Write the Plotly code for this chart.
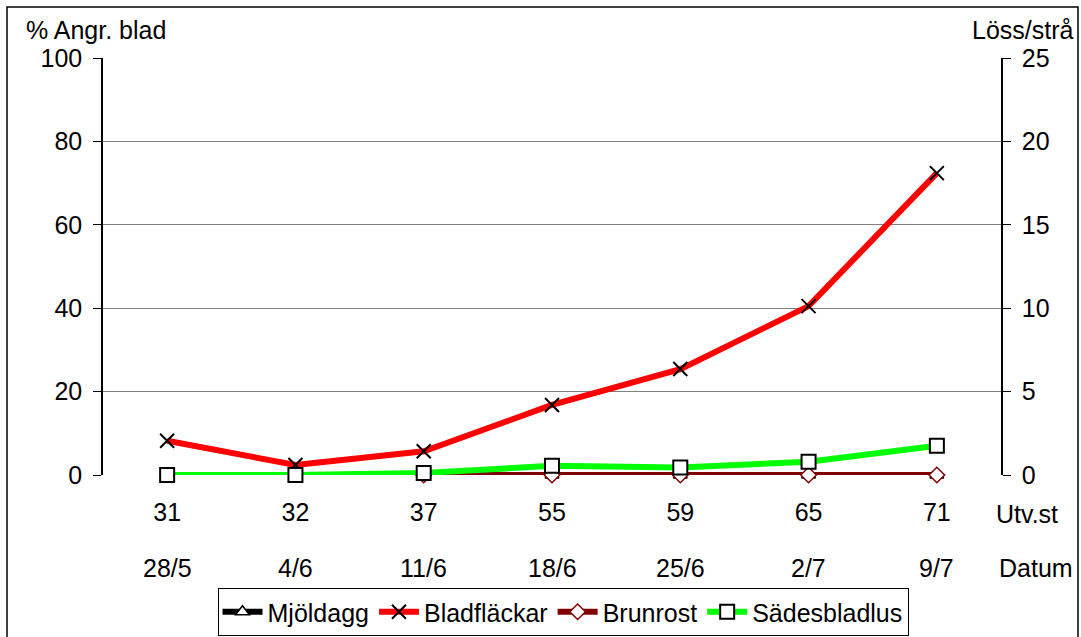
import plotly.graph_objects as go

utv = ["31", "32", "37", "55", "59", "65", "71"]
datum = ["28/5", "4/6", "11/6", "18/6", "25/6", "2/7", "9/7"]

mjoldagg = [None, None, 0, 0, 0, 0, 0]
bladflackar = [8.2, 2.4, 5.7, 16.8, 25.4, 40.5, 72.4]
brunrost = [None, None, 0, 0, 0, 0, 0]
sadesbladlus = [0, 0, 0.12, 0.55, 0.45, 0.8, 1.75]  # Löss/strå (right axis)

left_ticks = [0, 20, 40, 60, 80, 100]
right_ticks = [0, 5, 10, 15, 20, 25]

FONT = "Liberation Sans, Arial, sans-serif"
FS = 25

fig = go.Figure()
fig.add_trace(go.Scatter(
    x=utv, y=mjoldagg, name="Mjöldagg", mode="lines+markers", legendgroup="a",
    line=dict(color="black", width=6),
    marker=dict(symbol="triangle-up", size=12, color="white", line=dict(color="black", width=1.5)),
    cliponaxis=False))
fig.add_trace(go.Scatter(
    x=utv, y=bladflackar, name="Bladfläckar", mode="lines+markers", legendgroup="b",
    line=dict(color="#ff0000", width=6),
    marker=dict(symbol="x-thin", size=14, color="black", line=dict(color="black", width=2)),
    cliponaxis=False))
fig.add_trace(go.Scatter(
    x=utv, y=brunrost, name="Brunrost", mode="lines+markers", legendgroup="c",
    line=dict(color="#800000", width=6),
    marker=dict(symbol="diamond", size=12, color="white", line=dict(color="#800000", width=1.5)),
    cliponaxis=False))
fig.add_trace(go.Scatter(
    x=utv, y=sadesbladlus, name="Sädesbladlus", mode="lines+markers", yaxis="y2", legendgroup="d",
    line=dict(color="#00ff00", width=6),
    marker=dict(symbol="square", size=14, color="white", line=dict(color="black", width=2)),
    cliponaxis=False))

tf = dict(size=FS, color="black", family=FONT)
annotations = []
for i, d in enumerate(datum):
    annotations.append(dict(x=i, xref="x", y=(475 - 568) / 417, yref="paper", yanchor="middle",
                            text=d, showarrow=False, font=tf))
annotations += [
    dict(x=(994 - 103) / 898, xref="paper", y=(475 - 514) / 417, yref="paper", xanchor="left",
         yanchor="middle", text="Utv.st", showarrow=False, font=tf),
    dict(x=(997 - 103) / 898, xref="paper", y=(475 - 568) / 417, yref="paper", xanchor="left",
         yanchor="middle", text="Datum", showarrow=False, font=tf),
    dict(x=(24 - 103) / 898, xref="paper", y=(475 - 30) / 417, yref="paper", xanchor="left",
         yanchor="middle", text="% Angr. blad", showarrow=False, font=tf),
    dict(x=(1076 - 103) / 898, xref="paper", y=(475 - 30) / 417, yref="paper", xanchor="right",
         yanchor="middle", text="Löss/strå", showarrow=False, font=tf),
]

fig.update_layout(
    width=1081, height=637,
    margin=dict(l=103, r=80, t=58, b=162, autoexpand=False),
    paper_bgcolor="white", plot_bgcolor="white",
    font=dict(family=FONT, size=FS, color="black"),
    xaxis=dict(type="category", categoryorder="array", categoryarray=utv,
               range=[-0.5, 6.5], showgrid=False, showline=False, zeroline=False,
               ticks="", tickfont=dict(size=FS), ticklabelstandoff=20, automargin=False),
    yaxis=dict(range=[0, 100], tickvals=left_ticks, showgrid=True, gridcolor="#808080",
               gridwidth=1, zeroline=False, showline=True, linecolor="black", linewidth=1.5,
               ticks="outside", ticklen=8, tickcolor="black", tickfont=dict(size=FS),
               ticklabelstandoff=6, automargin=False),
    yaxis2=dict(range=[0, 25], tickvals=right_ticks, overlaying="y", side="right",
                showgrid=False, zeroline=False, showline=True, linecolor="black", linewidth=1.5,
                ticks="outside", ticklen=8, tickcolor="black", tickfont=dict(size=FS),
                ticklabelstandoff=6, automargin=False),
    legend=dict(orientation="h", x=(563 - 103) / 898, xanchor="center",
                y=(475 - 588) / 417, yanchor="top", bgcolor="white",
                bordercolor="black", borderwidth=1, font=dict(size=FS, family=FONT),
                itemwidth=40, tracegroupgap=30),
    showlegend=True,
    annotations=annotations,
    shapes=[dict(type="rect", xref="paper", yref="paper",
                 x0=(7 - 103) / 898, x1=(1078 - 103) / 898,
                 y0=(475 - 660) / 417, y1=(475 - 7) / 417,
                 line=dict(color="black", width=1.5), fillcolor="rgba(0,0,0,0)", layer="below")],
)

fig.write_html("out.html")
